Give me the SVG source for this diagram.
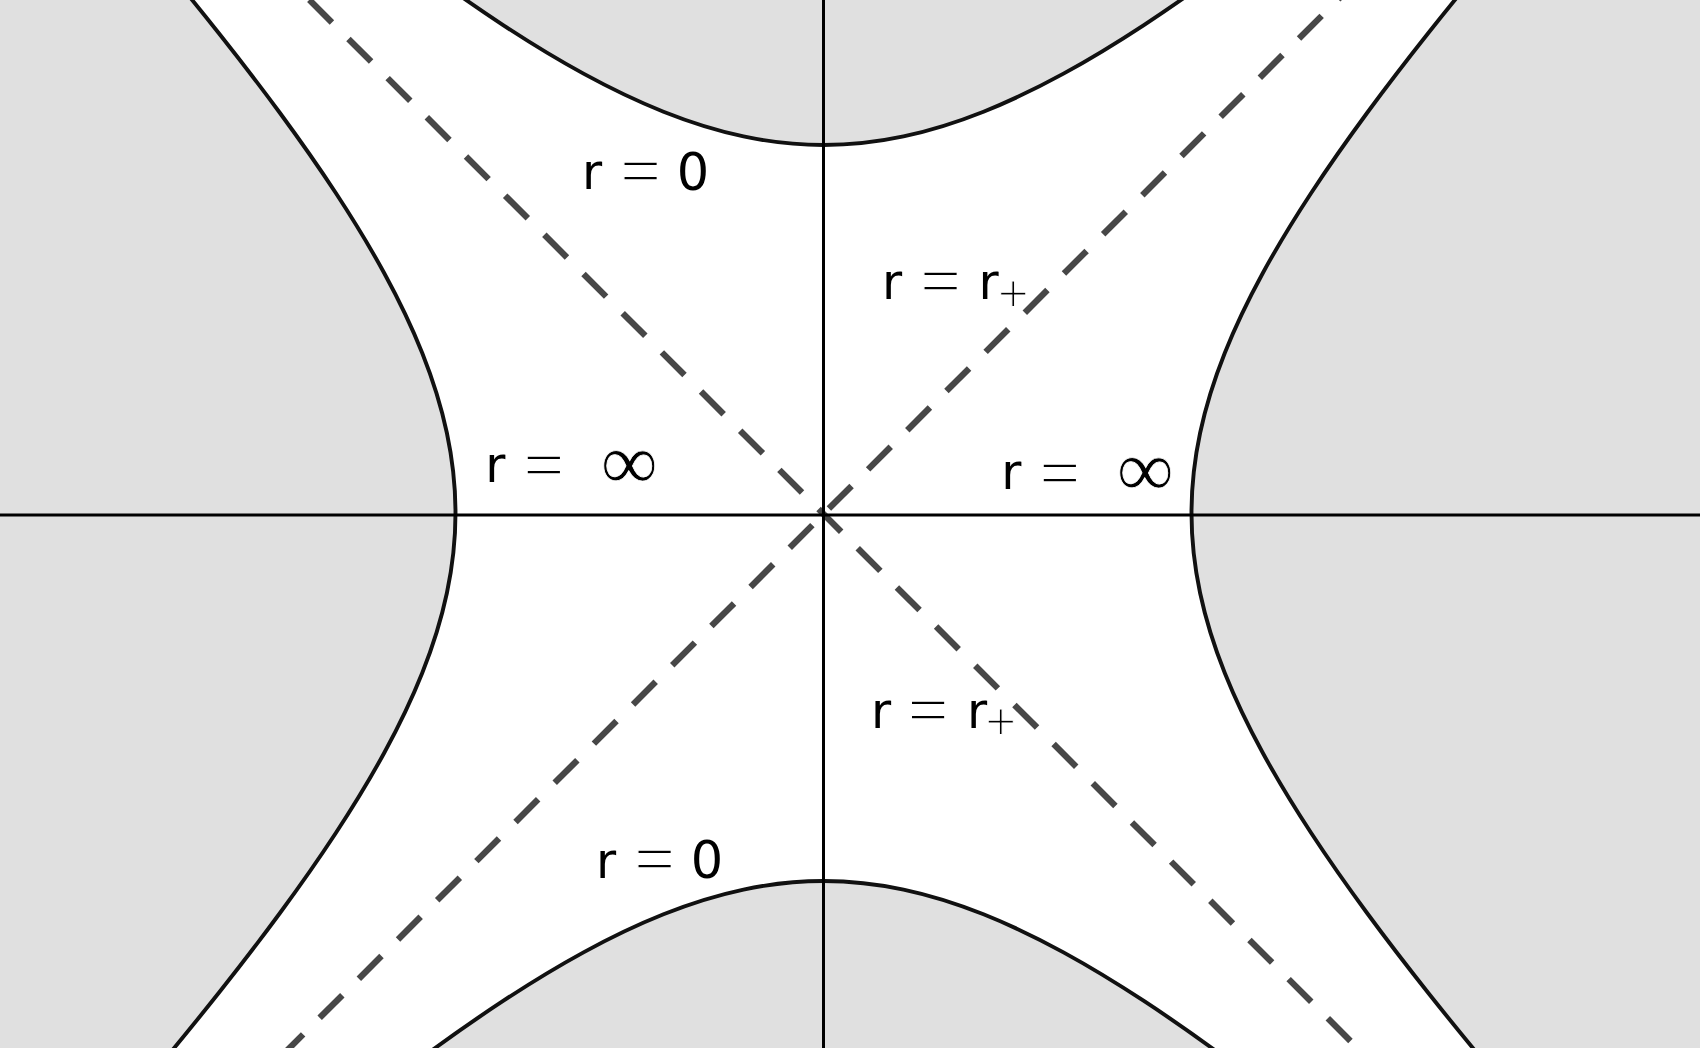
<svg xmlns="http://www.w3.org/2000/svg" width="1700" height="1048" viewBox="0 0 1700 1048">
<style>
.bg{fill:#e0e0e0}
.region{fill:#ffffff;stroke:#111111;stroke-width:3.9;stroke-linejoin:round}
.dash{fill:none;stroke:#474747;stroke-width:6.3;stroke-dasharray:32 23.4}
.axis{fill:none;stroke:#000000;stroke-width:3}
.lbl{font-family:"DejaVu Sans",sans-serif;font-size:49px;fill:#000;text-anchor:middle}
.op{font-family:"Liberation Serif",serif;font-size:72px;stroke:#ffffff;stroke-width:1.3}
.inf{font-family:"Liberation Serif",serif;font-size:80px;stroke:#ffffff;stroke-width:0.8}
.sub{font-family:"Liberation Serif",serif;font-size:54px;stroke:#ffffff;stroke-width:1}
</style>
<rect class="bg" x="0" y="0" width="1700" height="1048"/>
<g id="region">
<path class="region" d="M343.5,-91.83
C370.17,-70.67 396.83,-50.16 423.5,-30.53
C450.17,-10.91 476.83,7.82 503.5,25.32
C530.17,42.82 556.83,59.08 583.5,73.65
C610.17,88.22 636.83,101.09 663.5,111.72
C690.17,122.35 716.83,130.74 743.5,136.4
C770.17,142.07 796.83,145 823.5,145
C850.17,145 876.83,142.07 903.5,136.4
C930.17,130.74 956.83,122.35 983.5,111.72
C1010.17,101.09 1036.83,88.22 1063.5,73.65
C1090.17,59.08 1116.83,42.82 1143.5,25.32
C1170.17,7.82 1196.83,-10.91 1223.5,-30.53
C1250.17,-50.16 1276.83,-70.67 1303.5,-91.83
L1493.59,-47
C1471.3,-20.33 1449.49,6.33 1428.33,33
C1407.17,59.67 1386.66,86.33 1367.03,113
C1347.41,139.67 1328.68,166.33 1311.18,193
C1293.68,219.67 1277.42,246.33 1262.85,273
C1248.28,299.67 1235.41,326.33 1224.78,353
C1214.15,379.67 1205.77,406.33 1200.1,433
C1194.44,459.67 1191.5,486.33 1191.5,513
C1191.5,539.67 1194.44,566.33 1200.1,593
C1205.77,619.67 1214.15,646.33 1224.78,673
C1235.41,699.67 1248.28,726.33 1262.85,753
C1277.42,779.67 1293.68,806.33 1311.18,833
C1328.68,859.67 1347.41,886.33 1367.03,913
C1386.66,939.67 1407.17,966.33 1428.33,993
C1449.49,1019.67 1471.3,1046.33 1493.59,1073
L1303.5,1117.83
C1276.83,1096.67 1250.17,1076.16 1223.5,1056.53
C1196.83,1036.91 1170.17,1018.18 1143.5,1000.68
C1116.83,983.18 1090.17,966.92 1063.5,952.35
C1036.83,937.78 1010.17,924.91 983.5,914.28
C956.83,903.65 930.17,895.26 903.5,889.6
C876.83,883.93 850.17,881 823.5,881
C796.83,881 770.17,883.93 743.5,889.6
C716.83,895.26 690.17,903.65 663.5,914.28
C636.83,924.91 610.17,937.78 583.5,952.35
C556.83,966.92 530.17,983.18 503.5,1000.68
C476.83,1018.18 450.17,1036.91 423.5,1056.53
C396.83,1076.16 370.17,1096.67 343.5,1117.83
L153.41,1073
C175.7,1046.33 197.51,1019.67 218.67,993
C239.83,966.33 260.34,939.67 279.97,913
C299.59,886.33 318.32,859.67 335.82,833
C353.32,806.33 369.58,779.67 384.15,753
C398.72,726.33 411.59,699.67 422.22,673
C432.85,646.33 441.23,619.67 446.9,593
C452.56,566.33 455.5,539.67 455.5,513
C455.5,486.33 452.56,459.67 446.9,433
C441.23,406.33 432.85,379.67 422.22,353
C411.59,326.33 398.72,299.67 384.15,273
C369.58,246.33 353.32,219.67 335.82,193
C318.32,166.33 299.59,139.67 279.97,113
C260.34,86.33 239.83,59.67 218.67,33
C197.51,6.33 175.7,-20.33 153.41,-47 Z"/>
</g>
<g id="connectors">
<path class="dash" d="M309.3,-0.2 L1362,1052.5"/>
<path class="dash" d="M280.5,1057 L1365,-27.5"/>
<path class="axis" d="M0,515 L1700,515"/>
<path class="axis" d="M823.5,0 L823.5,1048"/>
</g>
<g id="label-top">
<text class="lbl"><tspan x="592" y="189">r</tspan><tspan class="op" x="640.5" y="194.8">=</tspan><tspan x="693" y="189.5" font-size="51">0</tspan></text>
</g>
<g id="label-upper-right">
<text class="lbl"><tspan x="892" y="299.3">r</tspan><tspan class="op" x="940.5" y="305.1">=</tspan><tspan x="988.5" y="299.3">r</tspan><tspan class="sub" x="1013.3" y="311.5">+</tspan></text>
</g>
<g id="label-left">
<text class="lbl"><tspan x="495.3" y="481.7">r</tspan><tspan class="op" x="543.9" y="489.1">=</tspan><tspan class="inf" x="629.3" y="488.5">∞</tspan></text>
</g>
<g id="label-right">
<text class="lbl"><tspan x="1011.3" y="489.3">r</tspan><tspan class="op" x="1059.9" y="496.7">=</tspan><tspan class="inf" x="1145.3" y="496.1">∞</tspan></text>
</g>
<g id="label-lower-right">
<text class="lbl"><tspan x="881" y="727.7">r</tspan><tspan class="op" x="928" y="733.5">=</tspan><tspan x="977.2" y="727.7">r</tspan><tspan class="sub" x="1000.8" y="740">+</tspan></text>
</g>
<g id="label-bottom">
<text class="lbl"><tspan x="606" y="877.5">r</tspan><tspan class="op" x="654.6" y="883.3">=</tspan><tspan x="707.1" y="878" font-size="51">0</tspan></text>
</g>
</svg>
